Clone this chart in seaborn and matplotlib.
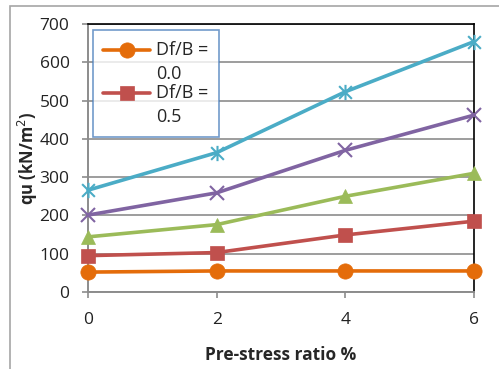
import numpy as np
import pandas as pd
import matplotlib
matplotlib.use("Agg")
import matplotlib.pyplot as plt
import seaborn as sns
from matplotlib.path import Path
from matplotlib.patches import Rectangle
from matplotlib.transforms import Affine2D
from matplotlib.legend_handler import HandlerLine2D

# ---- data ----
prestress = [0, 2, 4, 6]
series_names = ["Df/B =\n0.0", "Df/B =\n0.5", "Df/B =\n1.0", "Df/B =\n1.5", "Df/B =\n2.0"]
qu_00 = [52, 55, 55, 55]
qu_05 = [95, 103, 149, 185]
qu_10 = [144, 176, 250, 310]
qu_15 = [201, 259, 370, 462]
qu_20 = [266, 364, 523, 654]
y_ticks = [0, 100, 200, 300, 400, 500, 600, 700]
x_ticks = [0, 2, 4, 6]

colors = ["#E46C0A", "#C0504D", "#9BBB59", "#8064A2", "#4BACC6"]

star = Path(
    [(-1, -1), (1, 1), (-1, 1), (1, -1), (0, -1.2), (0, 1.2)],
    [Path.MOVETO, Path.LINETO, Path.MOVETO, Path.LINETO, Path.MOVETO, Path.LINETO],
)
markers = ["o", "s", "^", "x", star]
msizes = [11, 10, 10.5, 10, 11]


class FirstLineHandler(HandlerLine2D):
    """Place the legend handle level with the first line of a wrapped label."""
    def __init__(self, dy=9.0, **kw):
        super().__init__(**kw)
        self.dy = dy

    def create_artists(self, legend, orig_handle, xdescent, ydescent, width,
                       height, fontsize, trans):
        new_trans = Affine2D().translate(0, self.dy) + trans
        return super().create_artists(legend, orig_handle, xdescent, ydescent,
                                      width, height, fontsize, new_trans)


sns.set_style("white")
plt.rcParams["font.family"] = ["Open Sans", "DejaVu Sans"]

fig = plt.figure(figsize=(4.99, 3.69), dpi=100)
ax = fig.add_axes([88 / 499, 1 - 292 / 369, (474 - 88) / 499, (292 - 24) / 369])

all_vals = [qu_00, qu_05, qu_10, qu_15, qu_20]
for name, vals, c, m, ms in zip(series_names, all_vals, colors, markers, msizes):
    df = pd.DataFrame({"x": prestress, "y": vals})
    thin = (m == "x") or (m is star)
    sns.lineplot(data=df, x="x", y="y", ax=ax, color=c, marker=m, markersize=ms,
                 linewidth=2.6, markeredgecolor=c, markeredgewidth=1.5 if thin else 0.5,
                 label=name, clip_on=False, zorder=3)

ax.set_xlim(0, 6)
ax.set_ylim(0, 700)
ax.set_xticks(x_ticks)
ax.set_yticks(y_ticks)
ax.set_xticklabels([str(v) for v in x_ticks], fontsize=12.5, color="#222222")
ax.set_yticklabels([str(v) for v in y_ticks], fontsize=12.5, color="#222222")
ax.grid(axis="y", color="#8C8C8C", linewidth=1.2)
ax.grid(axis="x", visible=False)
ax.tick_params(axis="both", which="major", direction="out", length=4.3, width=1.2,
               color="#8C8C8C", left=True, bottom=True)
ax.tick_params(axis="y", pad=9)
ax.tick_params(axis="x", pad=10)

for s in ["top", "right"]:
    ax.spines[s].set_color("black")
    ax.spines[s].set_linewidth(1.2)
for s in ["left", "bottom"]:
    ax.spines[s].set_color("#8C8C8C")
    ax.spines[s].set_linewidth(1.4)

ax.set_xlabel("Pre-stress ratio %", fontsize=12.5, fontweight="bold", labelpad=13)
ax.set_ylabel("qu (kN/m$^2$)", fontsize=12, fontweight="bold", labelpad=0)

handles, labels = ax.get_legend_handles_labels()
leg = ax.legend(handles[:2], labels[:2], loc="upper left",
                bbox_to_anchor=(0.012, 0.978), fontsize=13, frameon=True,
                fancybox=False, handlelength=2.6, borderpad=0.6, labelspacing=0.05,
                handletextpad=0.3, borderaxespad=0,
                handler_map={h: FirstLineHandler() for h in handles[:2]})
for t in leg.get_texts():
    t.set_linespacing(1.45)
leg.get_frame().set_edgecolor("#4F81BD")
leg.get_frame().set_linewidth(1.2)
leg.set_zorder(5)

fig.add_artist(Rectangle((10 / 499, -0.5), 2.0, 0.5 + (1 - 6 / 369), fill=False,
                         edgecolor="#A6A6A6", linewidth=1.2, transform=fig.transFigure))

fig.savefig("out.png", dpi=100)
